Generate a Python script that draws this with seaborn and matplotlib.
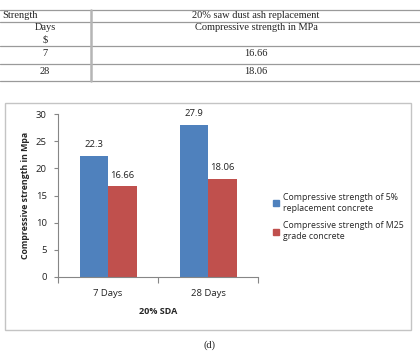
import matplotlib
matplotlib.use("Agg")
import matplotlib.pyplot as plt
import numpy as np
import pandas as pd
import seaborn as sns
from matplotlib.lines import Line2D
from matplotlib.patches import Rectangle

# datos
days = ["7 Days", "28 Days"]
series = ["Compressive strength of 5%\nreplacement concrete",
          "Compressive strength of M25\ngrade concrete"]
vals_5pct = [22.3, 27.9]
vals_m25 = [16.66, 18.06]
label_5pct = ["22.3", "27.9"]
label_m25 = ["16.66", "18.06"]
colores = ["#4F81BD", "#C0504D"]

# tabla de arriba
tab_days = ["7", "28"]
tab_vals = ["16.66", "18.06"]

df = pd.DataFrame({
    "Days": days * 2,
    "Serie": [series[0]] * 2 + [series[1]] * 2,
    "Valor": vals_5pct + vals_m25,
})

sns.set_style("white")
plt.rcParams["font.family"] = ["Open Sans", "DejaVu Sans"]

W, H = 420, 352
fig = plt.figure(figsize=(W / 100, H / 100), dpi=100)


def fx(px):
    return px / W


def fy(py):
    return 1 - py / H


# tabla
for yy in [10, 22, 46, 64, 81]:
    fig.add_artist(Line2D([0, 1], [fy(yy), fy(yy)], color="#9a9a9a", lw=0.9,
                          transform=fig.transFigure))
fig.add_artist(Line2D([fx(91), fx(91)], [fy(10), fy(81)], color="#b5b5b5", lw=1.8,
                      transform=fig.transFigure))
serif = dict(family="Liberation Serif", fontsize=7.5, color="#222222")
fig.text(fx(2), fy(16), "Strength", ha="left", va="center", **serif)
fig.text(fx(256), fy(16), "20% saw dust ash replacement", ha="center", va="center", **serif)
fig.text(fx(45), fy(28), "Days", ha="center", va="center", **serif)
fig.text(fx(45), fy(40), "$", ha="center", va="center", **serif)
fig.text(fx(256), fy(28), "Compressive strength in MPa", ha="center", va="center", **serif)
for i, (d, v) in enumerate(zip(tab_days, tab_vals)):
    yy = 54 + i * 18
    fig.text(fx(45), fy(yy), d, ha="center", va="center", **serif)
    fig.text(fx(256), fy(yy), v, ha="center", va="center", **serif)

# marco del grafico
fig.add_artist(Rectangle((fx(5), fy(330)), fx(406), 227 / H, fill=False,
                         edgecolor="#c4c4c4", lw=1.0, transform=fig.transFigure))

ax = fig.add_axes([fx(58), fy(277), fx(200), 163 / H])
sns.barplot(data=df, x="Days", y="Valor", hue="Serie", palette=colores,
            width=0.57, gap=0, saturation=1, linewidth=0, ax=ax, legend=True)

ax.set_ylim(0, 30)
ax.set_xlim(-0.5, 1.5)
ax.set_yticks(np.arange(0, 31, 5))
ax.tick_params(axis="y", labelsize=6.8, length=3, width=0.8, color="#868686",
               direction="out", left=True, pad=5, labelcolor="#222222")
ax.set_xticks([-0.5, 0.5, 1.5], minor=True)
ax.tick_params(axis="x", which="minor", length=4, width=0.8, color="#868686",
               direction="out", bottom=True)
ax.tick_params(axis="x", which="major", length=0, labelsize=6.8, pad=9,
               labelcolor="#222222")
for s in ["top", "right"]:
    ax.spines[s].set_visible(False)
for s in ["left", "bottom"]:
    ax.spines[s].set_color("#868686")
    ax.spines[s].set_linewidth(0.8)

for cont, labs in zip(ax.containers, [label_5pct, label_m25]):
    ax.bar_label(cont, labels=labs, padding=5, fontsize=6.8, color="#222222")

ax.set_xlabel("20% SDA", fontsize=6.5, fontweight="bold", labelpad=6)
ax.set_ylabel("Compressive strength in Mpa", fontsize=6.3, fontweight="bold",
              labelpad=4)

handles = [Line2D([], [], marker="s", ls="", color=c, markersize=4) for c in colores]
ax.legend(handles, series, loc="center left", frameon=False, fontsize=6.3,
          bbox_to_anchor=(fx(269), fy(217)), bbox_transform=fig.transFigure,
          handlelength=0.6, handletextpad=0.5, labelspacing=1.0, borderpad=0)

fig.text(fx(209), fy(345), "(d)", ha="center", va="center", **serif)

fig.savefig("out.png", dpi=100)
